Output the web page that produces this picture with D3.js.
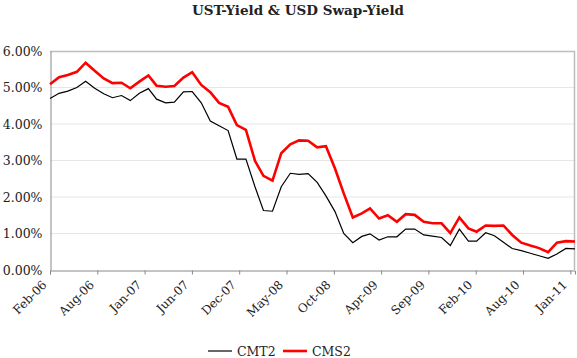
<!DOCTYPE html>
<html>
<head>
<meta charset="utf-8">
<script src="https://cdn.jsdelivr.net/npm/d3@7"></script>
<style>
  body { margin: 0; background: #fff; }
  text { font-family: "DejaVu Serif", serif; fill: #222; }
</style>
</head>
<body>
<div id="chart"></div>
<script>
// month index 0 = Feb-06, month-end values
var startYear = 2006, startMonth = 1;
var cmt2 = [4.70, 4.84, 4.90, 5.00, 5.17, 4.98, 4.83, 4.72, 4.78, 4.64,
            4.84, 4.97, 4.68, 4.58, 4.60, 4.88, 4.89, 4.58, 4.08, 3.95,
            3.82, 3.04, 3.04, 2.28, 1.63, 1.61, 2.28, 2.65, 2.62, 2.64,
            2.40, 2.03, 1.60, 1.00, 0.75, 0.92, 0.99, 0.82, 0.91, 0.91,
            1.12, 1.12, 0.96, 0.93, 0.89, 0.67, 1.12, 0.79, 0.79, 1.02,
            0.94, 0.76, 0.59, 0.53, 0.46, 0.39, 0.32, 0.44, 0.59, 0.58];
var cms2 = [5.09, 5.28, 5.34, 5.43, 5.68, 5.46, 5.25, 5.12, 5.13, 4.98,
            5.16, 5.33, 5.05, 5.02, 5.04, 5.27, 5.42, 5.07, 4.87, 4.58,
            4.47, 3.97, 3.84, 2.99, 2.58, 2.45, 3.20, 3.44, 3.55, 3.54,
            3.36, 3.39, 2.78, 2.10, 1.44, 1.55, 1.69, 1.41, 1.50, 1.32,
            1.53, 1.51, 1.32, 1.28, 1.28, 1.01, 1.44, 1.14, 1.05, 1.22,
            1.21, 1.22, 0.96, 0.75, 0.67, 0.60, 0.49, 0.75, 0.79, 0.78];
var tickLabels = ["Feb-06", "Aug-06", "Jan-07", "Jun-07", "Dec-07", "May-08",
                  "Oct-08", "Apr-09", "Sep-09", "Feb-10", "Aug-10", "Jan-11"];
var tickStepDays = 162;
var yTicks = [0, 1, 2, 3, 4, 5, 6];
var seriesNames = ["CMT2", "CMS2"];

function monthEnd(i) { return new Date(startYear, startMonth + i + 1, 0); }

var w = 577, h = 358;
var m = { left: 50, right: 2, top: 51, bottom: 88 };

var svg = d3.select("#chart").append("svg")
    .attr("width", w).attr("height", h);

var x = d3.scaleTime()
    .domain([monthEnd(0), monthEnd(cmt2.length - 1)])
    .range([m.left, w - m.right]);
var y = d3.scaleLinear().domain([0, 6]).range([h - m.bottom, m.top]);

var tickDates = tickLabels.map(function(d, i) {
    return d3.timeDay.offset(monthEnd(0), i * tickStepDays);
});

// Gridlines
svg.selectAll(".grid").data(yTicks.slice(1, -1)).enter()
    .append("line")
    .attr("x1", m.left).attr("x2", w - m.right)
    .attr("y1", function(d) { return y(d); })
    .attr("y2", function(d) { return y(d); })
    .attr("stroke", "#e6e6e6").attr("stroke-width", 1);

// Frame top/right
svg.append("path")
    .attr("d", "M" + m.left + "," + (y(6) + 0.5) + "H" + (w - m.right - 0.5) + "V" + y(0))
    .attr("fill", "none").attr("stroke", "#bdbdbd").attr("stroke-width", 1.5);

// Y axis
var yAxis = svg.append("g")
    .attr("transform", "translate(" + (m.left + 0.5) + ",0)")
    .call(d3.axisLeft(y).tickValues(yTicks).tickSize(0).tickPadding(8)
        .tickFormat(function(d) { return d3.format(".2f")(d) + "%"; }));
yAxis.select(".domain").attr("stroke", "#888");
yAxis.selectAll("text").attr("font-size", "12.5px").attr("fill", "#222");

// X axis
var xAxis = svg.append("g")
    .attr("transform", "translate(0," + (y(0) + 0.5) + ")")
    .call(d3.axisBottom(x).tickValues(tickDates).tickSize(4)
        .tickFormat(function(d, i) { return tickLabels[i]; }));
xAxis.select(".domain").attr("stroke", "#888");
xAxis.selectAll(".tick line").attr("stroke", "#888");
xAxis.selectAll("text")
    .attr("font-size", "12px").attr("fill", "#222")
    .attr("text-anchor", "end")
    .attr("dy", null).attr("y", 0)
    .attr("transform", "translate(-3,15) rotate(-45)");

// Lines
var line = function(vals) {
    return d3.line()
        .x(function(d, i) { return x(monthEnd(i)); })
        .y(function(d) { return y(d); })(vals);
};
svg.append("path").attr("d", line(cmt2))
    .attr("fill", "none").attr("stroke", "#000").attr("stroke-width", 1.2);
svg.append("path").attr("d", line(cms2))
    .attr("fill", "none").attr("stroke", "#ff0000").attr("stroke-width", 2.6);

// Title
svg.append("text")
    .attr("x", 298).attr("y", 15)
    .attr("text-anchor", "middle")
    .attr("font-size", "13.5px").attr("font-weight", "bold")
    .attr("fill", "#000")
    .text("UST-Yield & USD Swap-Yield");

// Legend
var legendColors = ["#000", "#ff0000"];
var legendWidths = [1.2, 2.6];
var lg = svg.selectAll(".legend").data(seriesNames).enter()
    .append("g")
    .attr("transform", function(d, i) { return "translate(" + (208 + i * 75) + ",351)"; });
lg.append("line")
    .attr("x1", 0).attr("x2", 24).attr("y1", 0).attr("y2", 0)
    .attr("stroke", function(d, i) { return legendColors[i]; })
    .attr("stroke-width", function(d, i) { return legendWidths[i]; });
lg.append("text")
    .attr("x", 29).attr("y", 4.5)
    .attr("font-size", "12.5px")
    .text(function(d) { return d; });
</script>
</body>
</html>
